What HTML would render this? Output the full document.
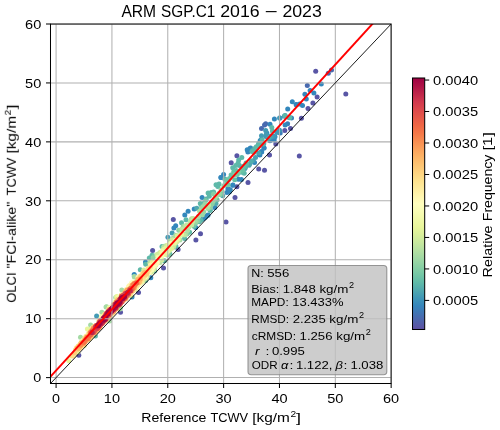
<!DOCTYPE html>
<html lang="en"><head><meta charset="utf-8"><title>ARM SGP.C1 2016 - 2023</title>
<style>
html,body{margin:0;padding:0;background:#ffffff;}
body{width:500px;height:430px;overflow:hidden;font-family:"Liberation Sans",sans-serif;}
svg{display:block;font-family:"Liberation Sans",sans-serif;}
svg text{fill:#000000;}
</style></head>
<body>
<svg width="500" height="430" viewBox="0 0 500 430">
<defs>
<clipPath id="axclip"><rect x="50.5" y="24.0" width="340.65" height="359.5"/></clipPath>
<linearGradient id="cb" x1="0" y1="0" x2="0" y2="1">
<stop offset="0.0000" stop-color="#9e0142"/><stop offset="0.0312" stop-color="#ad1246"/><stop offset="0.0625" stop-color="#be254a"/><stop offset="0.0938" stop-color="#d0384e"/><stop offset="0.1250" stop-color="#dc484c"/><stop offset="0.1562" stop-color="#e55749"/><stop offset="0.1875" stop-color="#ef6645"/><stop offset="0.2188" stop-color="#f57748"/><stop offset="0.2500" stop-color="#f88c51"/><stop offset="0.2812" stop-color="#fba05b"/><stop offset="0.3125" stop-color="#fdb365"/><stop offset="0.3438" stop-color="#fdc372"/><stop offset="0.3750" stop-color="#fed27f"/><stop offset="0.4062" stop-color="#fee18d"/><stop offset="0.4375" stop-color="#feeb9d"/><stop offset="0.4688" stop-color="#fff5ae"/><stop offset="0.5000" stop-color="#fffebe"/><stop offset="0.5312" stop-color="#f8fcb4"/><stop offset="0.5625" stop-color="#f0f9a7"/><stop offset="0.5938" stop-color="#e8f69b"/><stop offset="0.6250" stop-color="#d8ef9b"/><stop offset="0.6562" stop-color="#c6e89f"/><stop offset="0.6875" stop-color="#b3e0a2"/><stop offset="0.7188" stop-color="#9fd8a4"/><stop offset="0.7500" stop-color="#89d0a4"/><stop offset="0.7812" stop-color="#74c7a5"/><stop offset="0.8125" stop-color="#60bba8"/><stop offset="0.8438" stop-color="#50a9af"/><stop offset="0.8750" stop-color="#3f97b7"/><stop offset="0.9062" stop-color="#3585bb"/><stop offset="0.9375" stop-color="#4273b3"/><stop offset="0.9688" stop-color="#5061aa"/><stop offset="1.0000" stop-color="#5e4fa2"/>
</linearGradient>
<filter id="gs" filterUnits="userSpaceOnUse" x="0" y="0" width="500" height="430"><feOffset dx="0" dy="0"/></filter>
</defs>
<rect x="0" y="0" width="500" height="430" fill="#ffffff"/>
<g clip-path="url(#axclip)">
<g id="scatter">
<circle cx="78.8" cy="355.2" r="2.5" fill="#5956a5"/>
<circle cx="120.5" cy="312.2" r="2.5" fill="#5956a5"/>
<circle cx="138.5" cy="292.5" r="2.5" fill="#5956a5"/>
<circle cx="152.6" cy="250.4" r="2.5" fill="#5956a5"/>
<circle cx="163.5" cy="268.0" r="2.5" fill="#5956a5"/>
<circle cx="178.1" cy="249.5" r="2.5" fill="#5956a5"/>
<circle cx="173.3" cy="219.4" r="2.5" fill="#5956a5"/>
<circle cx="200.5" cy="233.8" r="2.5" fill="#5956a5"/>
<circle cx="195.9" cy="239.9" r="2.5" fill="#5956a5"/>
<circle cx="226.0" cy="221.9" r="2.5" fill="#5956a5"/>
<circle cx="235.0" cy="197.4" r="2.5" fill="#5956a5"/>
<circle cx="236.9" cy="186.8" r="2.5" fill="#5956a5"/>
<circle cx="248.0" cy="182.5" r="2.5" fill="#5956a5"/>
<circle cx="236.9" cy="155.7" r="2.5" fill="#5956a5"/>
<circle cx="231.2" cy="162.7" r="2.5" fill="#5956a5"/>
<circle cx="269.5" cy="155.0" r="2.5" fill="#5956a5"/>
<circle cx="258.7" cy="169.0" r="2.5" fill="#5956a5"/>
<circle cx="264.5" cy="170.2" r="2.5" fill="#5956a5"/>
<circle cx="275.8" cy="144.1" r="2.5" fill="#5956a5"/>
<circle cx="299.3" cy="156.0" r="2.5" fill="#5956a5"/>
<circle cx="284.8" cy="130.6" r="2.5" fill="#5956a5"/>
<circle cx="290.5" cy="128.6" r="2.5" fill="#5956a5"/>
<circle cx="301.4" cy="118.2" r="2.5" fill="#5956a5"/>
<circle cx="308.0" cy="108.6" r="2.5" fill="#5956a5"/>
<circle cx="315.7" cy="71.2" r="2.5" fill="#5956a5"/>
<circle cx="345.8" cy="93.9" r="2.5" fill="#5956a5"/>
<circle cx="317.1" cy="97.1" r="2.5" fill="#5956a5"/>
<circle cx="312.9" cy="103.1" r="2.5" fill="#5956a5"/>
<circle cx="265.7" cy="123.7" r="2.5" fill="#496aaf"/>
<circle cx="261.5" cy="128.6" r="2.5" fill="#496aaf"/>
<circle cx="264.5" cy="125.0" r="2.5" fill="#496aaf"/>
<circle cx="328.3" cy="73.3" r="2.5" fill="#496aaf"/>
<circle cx="331.5" cy="70.1" r="2.5" fill="#496aaf"/>
<circle cx="307.3" cy="85.6" r="2.5" fill="#496aaf"/>
<circle cx="280.2" cy="133.0" r="2.5" fill="#3b7cb7"/>
<circle cx="287.6" cy="123.8" r="2.5" fill="#3880b9"/>
<circle cx="291.5" cy="118.0" r="2.5" fill="#3585bb"/>
<circle cx="247.9" cy="152.0" r="2.5" fill="#3585bb"/>
<circle cx="132.0" cy="297.1" r="2.5" fill="#3387bc"/>
<circle cx="150.8" cy="277.7" r="2.5" fill="#3387bc"/>
<circle cx="145.5" cy="261.9" r="2.5" fill="#3387bc"/>
<circle cx="134.2" cy="274.6" r="2.5" fill="#3387bc"/>
<circle cx="184.8" cy="215.1" r="2.5" fill="#3387bc"/>
<circle cx="188.1" cy="211.2" r="2.5" fill="#3387bc"/>
<circle cx="175.7" cy="225.7" r="2.5" fill="#3387bc"/>
<circle cx="173.9" cy="228.1" r="2.5" fill="#3387bc"/>
<circle cx="195.7" cy="227.5" r="2.5" fill="#3387bc"/>
<circle cx="202.9" cy="218.7" r="2.5" fill="#3387bc"/>
<circle cx="205.9" cy="216.7" r="2.5" fill="#3387bc"/>
<circle cx="208.1" cy="215.1" r="2.5" fill="#3387bc"/>
<circle cx="202.1" cy="197.4" r="2.5" fill="#3387bc"/>
<circle cx="194.2" cy="208.9" r="2.5" fill="#3387bc"/>
<circle cx="214.8" cy="207.4" r="2.5" fill="#3387bc"/>
<circle cx="210.0" cy="210.0" r="2.5" fill="#3387bc"/>
<circle cx="207.5" cy="215.5" r="2.5" fill="#3387bc"/>
<circle cx="204.5" cy="217.9" r="2.5" fill="#3387bc"/>
<circle cx="202.7" cy="219.1" r="2.5" fill="#3387bc"/>
<circle cx="228.7" cy="189.5" r="2.5" fill="#3387bc"/>
<circle cx="226.9" cy="192.5" r="2.5" fill="#3387bc"/>
<circle cx="229.3" cy="191.9" r="2.5" fill="#3387bc"/>
<circle cx="232.9" cy="184.9" r="2.5" fill="#3387bc"/>
<circle cx="220.8" cy="177.4" r="2.5" fill="#3387bc"/>
<circle cx="238.4" cy="179.2" r="2.5" fill="#3387bc"/>
<circle cx="241.4" cy="179.6" r="2.5" fill="#3387bc"/>
<circle cx="254.5" cy="162.4" r="2.5" fill="#3387bc"/>
<circle cx="247.2" cy="149.7" r="2.5" fill="#3387bc"/>
<circle cx="250.0" cy="148.5" r="2.5" fill="#3387bc"/>
<circle cx="223.6" cy="174.5" r="2.5" fill="#3387bc"/>
<circle cx="221.2" cy="177.5" r="2.5" fill="#3387bc"/>
<circle cx="227.9" cy="189.0" r="2.5" fill="#3387bc"/>
<circle cx="232.7" cy="185.3" r="2.5" fill="#3387bc"/>
<circle cx="259.9" cy="155.1" r="2.5" fill="#3387bc"/>
<circle cx="261.7" cy="152.1" r="2.5" fill="#3387bc"/>
<circle cx="264.1" cy="147.9" r="2.5" fill="#3387bc"/>
<circle cx="274.4" cy="118.9" r="2.5" fill="#3387bc"/>
<circle cx="287.7" cy="109.1" r="2.5" fill="#3387bc"/>
<circle cx="270.0" cy="124.3" r="2.5" fill="#3387bc"/>
<circle cx="285.1" cy="125.0" r="2.5" fill="#3387bc"/>
<circle cx="273.0" cy="137.6" r="2.5" fill="#3387bc"/>
<circle cx="274.2" cy="140.1" r="2.5" fill="#3387bc"/>
<circle cx="270.0" cy="140.7" r="2.5" fill="#3387bc"/>
<circle cx="263.9" cy="147.9" r="2.5" fill="#3387bc"/>
<circle cx="261.5" cy="151.6" r="2.5" fill="#3387bc"/>
<circle cx="259.1" cy="154.6" r="2.5" fill="#3387bc"/>
<circle cx="250.6" cy="147.9" r="2.5" fill="#3387bc"/>
<circle cx="302.5" cy="105.5" r="2.5" fill="#3387bc"/>
<circle cx="296.4" cy="104.8" r="2.5" fill="#3387bc"/>
<circle cx="321.3" cy="84.1" r="2.5" fill="#3387bc"/>
<circle cx="310.1" cy="90.5" r="2.5" fill="#3387bc"/>
<circle cx="313.9" cy="92.9" r="2.5" fill="#3387bc"/>
<circle cx="304.9" cy="94.3" r="2.5" fill="#3387bc"/>
<circle cx="306.3" cy="98.9" r="2.5" fill="#3387bc"/>
<circle cx="292.3" cy="101.7" r="2.5" fill="#3387bc"/>
<circle cx="296.1" cy="104.5" r="2.5" fill="#3387bc"/>
<circle cx="299.6" cy="104.1" r="2.5" fill="#3387bc"/>
<circle cx="280.0" cy="118.0" r="2.5" fill="#3387bc"/>
<circle cx="266.8" cy="132.9" r="2.5" fill="#358bbc"/>
<circle cx="230.3" cy="189.7" r="2.5" fill="#358bbc"/>
<circle cx="260.2" cy="140.6" r="2.5" fill="#378ebb"/>
<circle cx="275.0" cy="136.8" r="2.5" fill="#378ebb"/>
<circle cx="284.4" cy="116.2" r="2.5" fill="#3990ba"/>
<circle cx="261.4" cy="139.4" r="2.5" fill="#3990ba"/>
<circle cx="273.6" cy="136.3" r="2.5" fill="#3f97b7"/>
<circle cx="276.8" cy="132.6" r="2.5" fill="#4199b6"/>
<circle cx="279.5" cy="130.2" r="2.5" fill="#4199b6"/>
<circle cx="265.8" cy="136.6" r="2.5" fill="#4199b6"/>
<circle cx="96.6" cy="316.1" r="2.5" fill="#439bb5"/>
<circle cx="172.1" cy="233.0" r="2.5" fill="#439bb5"/>
<circle cx="167.9" cy="237.2" r="2.5" fill="#439bb5"/>
<circle cx="279.6" cy="118.1" r="2.5" fill="#439bb5"/>
<circle cx="285.1" cy="115.6" r="2.5" fill="#439bb5"/>
<circle cx="289.3" cy="117.7" r="2.5" fill="#439bb5"/>
<circle cx="265.7" cy="130.4" r="2.5" fill="#439bb5"/>
<circle cx="261.5" cy="135.8" r="2.5" fill="#439bb5"/>
<circle cx="266.3" cy="134.6" r="2.5" fill="#439bb5"/>
<circle cx="253.1" cy="160.7" r="2.5" fill="#459eb4"/>
<circle cx="271.3" cy="137.0" r="2.5" fill="#47a0b3"/>
<circle cx="258.7" cy="143.4" r="2.5" fill="#49a2b2"/>
<circle cx="255.5" cy="157.5" r="2.5" fill="#49a2b2"/>
<circle cx="245.0" cy="168.5" r="2.5" fill="#49a2b2"/>
<circle cx="252.6" cy="150.1" r="2.5" fill="#49a2b2"/>
<circle cx="258.8" cy="153.0" r="2.5" fill="#4ba4b1"/>
<circle cx="270.7" cy="136.1" r="2.5" fill="#4ba4b1"/>
<circle cx="249.1" cy="165.3" r="2.5" fill="#4ea7b0"/>
<circle cx="196.8" cy="208.3" r="2.5" fill="#50a9af"/>
<circle cx="263.1" cy="144.2" r="2.5" fill="#50a9af"/>
<circle cx="268.4" cy="138.5" r="2.5" fill="#50a9af"/>
<circle cx="249.8" cy="163.8" r="2.5" fill="#50a9af"/>
<circle cx="216.0" cy="203.5" r="2.5" fill="#52abae"/>
<circle cx="263.8" cy="143.8" r="2.5" fill="#54aead"/>
<circle cx="222.7" cy="195.8" r="2.5" fill="#54aead"/>
<circle cx="251.2" cy="161.0" r="2.5" fill="#54aead"/>
<circle cx="154.6" cy="271.0" r="2.5" fill="#56b0ad"/>
<circle cx="224.8" cy="179.0" r="2.5" fill="#58b2ac"/>
<circle cx="245.7" cy="166.7" r="2.5" fill="#58b2ac"/>
<circle cx="239.5" cy="165.5" r="2.5" fill="#58b2ac"/>
<circle cx="199.3" cy="221.7" r="2.5" fill="#5ab4ab"/>
<circle cx="206.2" cy="199.1" r="2.5" fill="#5ab4ab"/>
<circle cx="184.6" cy="238.4" r="2.5" fill="#5cb7aa"/>
<circle cx="201.0" cy="220.2" r="2.5" fill="#5cb7aa"/>
<circle cx="241.0" cy="172.2" r="2.5" fill="#5cb7aa"/>
<circle cx="95.4" cy="336.0" r="2.5" fill="#5eb9a9"/>
<circle cx="145.7" cy="280.5" r="2.5" fill="#5eb9a9"/>
<circle cx="145.7" cy="264.3" r="2.5" fill="#5eb9a9"/>
<circle cx="140.3" cy="269.8" r="2.5" fill="#5eb9a9"/>
<circle cx="152.0" cy="255.3" r="2.5" fill="#5eb9a9"/>
<circle cx="149.3" cy="258.1" r="2.5" fill="#5eb9a9"/>
<circle cx="164.5" cy="260.7" r="2.5" fill="#5eb9a9"/>
<circle cx="169.9" cy="254.1" r="2.5" fill="#5eb9a9"/>
<circle cx="162.0" cy="246.5" r="2.5" fill="#5eb9a9"/>
<circle cx="175.9" cy="246.2" r="2.5" fill="#5eb9a9"/>
<circle cx="210.2" cy="210.6" r="2.5" fill="#5eb9a9"/>
<circle cx="181.5" cy="222.7" r="2.5" fill="#5eb9a9"/>
<circle cx="186.0" cy="219.7" r="2.5" fill="#5eb9a9"/>
<circle cx="216.0" cy="184.7" r="2.5" fill="#5eb9a9"/>
<circle cx="219.0" cy="184.0" r="2.5" fill="#5eb9a9"/>
<circle cx="217.8" cy="186.5" r="2.5" fill="#5eb9a9"/>
<circle cx="208.1" cy="193.1" r="2.5" fill="#5eb9a9"/>
<circle cx="211.2" cy="192.5" r="2.5" fill="#5eb9a9"/>
<circle cx="213.6" cy="191.9" r="2.5" fill="#5eb9a9"/>
<circle cx="209.3" cy="196.2" r="2.5" fill="#5eb9a9"/>
<circle cx="200.3" cy="203.4" r="2.5" fill="#5eb9a9"/>
<circle cx="203.3" cy="203.4" r="2.5" fill="#5eb9a9"/>
<circle cx="201.5" cy="205.2" r="2.5" fill="#5eb9a9"/>
<circle cx="241.8" cy="157.5" r="2.5" fill="#5eb9a9"/>
<circle cx="238.7" cy="160.0" r="2.5" fill="#5eb9a9"/>
<circle cx="238.1" cy="163.0" r="2.5" fill="#5eb9a9"/>
<circle cx="235.7" cy="165.4" r="2.5" fill="#5eb9a9"/>
<circle cx="232.7" cy="167.8" r="2.5" fill="#5eb9a9"/>
<circle cx="244.2" cy="166.0" r="2.5" fill="#5eb9a9"/>
<circle cx="246.0" cy="163.0" r="2.5" fill="#5eb9a9"/>
<circle cx="242.4" cy="169.6" r="2.5" fill="#5eb9a9"/>
<circle cx="244.2" cy="173.3" r="2.5" fill="#5eb9a9"/>
<circle cx="259.9" cy="143.6" r="2.5" fill="#5eb9a9"/>
<circle cx="256.3" cy="146.7" r="2.5" fill="#5eb9a9"/>
<circle cx="252.0" cy="151.5" r="2.5" fill="#5eb9a9"/>
<circle cx="271.8" cy="127.4" r="2.5" fill="#5eb9a9"/>
<circle cx="272.4" cy="131.0" r="2.5" fill="#5eb9a9"/>
<circle cx="262.1" cy="140.1" r="2.5" fill="#5eb9a9"/>
<circle cx="258.5" cy="144.9" r="2.5" fill="#5eb9a9"/>
<circle cx="254.8" cy="148.5" r="2.5" fill="#5eb9a9"/>
<circle cx="284.9" cy="115.7" r="2.5" fill="#5eb9a9"/>
<circle cx="289.8" cy="117.4" r="2.5" fill="#5eb9a9"/>
<circle cx="254.3" cy="152.3" r="2.5" fill="#60bba8"/>
<circle cx="256.7" cy="147.4" r="2.5" fill="#60bba8"/>
<circle cx="246.6" cy="163.6" r="2.5" fill="#62bda7"/>
<circle cx="231.1" cy="175.0" r="2.5" fill="#62bda7"/>
<circle cx="189.6" cy="232.3" r="2.5" fill="#62bda7"/>
<circle cx="236.1" cy="170.5" r="2.5" fill="#62bda7"/>
<circle cx="244.0" cy="165.9" r="2.5" fill="#64c0a6"/>
<circle cx="241.8" cy="171.4" r="2.5" fill="#64c0a6"/>
<circle cx="233.7" cy="171.8" r="2.5" fill="#66c2a5"/>
<circle cx="234.7" cy="179.8" r="2.5" fill="#66c2a5"/>
<circle cx="217.1" cy="199.8" r="2.5" fill="#69c3a5"/>
<circle cx="232.4" cy="175.0" r="2.5" fill="#6bc4a5"/>
<circle cx="242.8" cy="170.0" r="2.5" fill="#6bc4a5"/>
<circle cx="228.4" cy="180.3" r="2.5" fill="#6ec5a5"/>
<circle cx="194.0" cy="226.3" r="2.5" fill="#6ec5a5"/>
<circle cx="226.4" cy="180.3" r="2.5" fill="#6ec5a5"/>
<circle cx="229.4" cy="178.5" r="2.5" fill="#6ec5a5"/>
<circle cx="237.3" cy="174.4" r="2.5" fill="#71c6a5"/>
<circle cx="154.1" cy="256.1" r="2.5" fill="#76c8a5"/>
<circle cx="209.6" cy="207.6" r="2.5" fill="#79c9a5"/>
<circle cx="168.8" cy="254.4" r="2.5" fill="#79c9a5"/>
<circle cx="205.7" cy="200.5" r="2.5" fill="#79c9a5"/>
<circle cx="228.1" cy="184.7" r="2.5" fill="#79c9a5"/>
<circle cx="225.9" cy="184.3" r="2.5" fill="#79c9a5"/>
<circle cx="222.1" cy="191.4" r="2.5" fill="#7ccaa5"/>
<circle cx="238.8" cy="171.7" r="2.5" fill="#7ecca5"/>
<circle cx="187.1" cy="234.0" r="2.5" fill="#7ecca5"/>
<circle cx="235.2" cy="174.6" r="2.5" fill="#84cea5"/>
<circle cx="213.5" cy="193.9" r="2.5" fill="#84cea5"/>
<circle cx="212.3" cy="203.7" r="2.5" fill="#86cfa5"/>
<circle cx="198.0" cy="220.9" r="2.5" fill="#86cfa5"/>
<circle cx="220.3" cy="194.5" r="2.5" fill="#86cfa5"/>
<circle cx="163.5" cy="247.2" r="2.5" fill="#86cfa5"/>
<circle cx="218.5" cy="194.3" r="2.5" fill="#89d0a4"/>
<circle cx="211.1" cy="205.3" r="2.5" fill="#89d0a4"/>
<circle cx="210.2" cy="207.5" r="2.5" fill="#8cd1a4"/>
<circle cx="178.8" cy="230.2" r="2.5" fill="#8cd1a4"/>
<circle cx="223.8" cy="185.7" r="2.5" fill="#8cd1a4"/>
<circle cx="195.7" cy="223.0" r="2.5" fill="#8fd2a4"/>
<circle cx="153.0" cy="257.7" r="2.5" fill="#91d3a4"/>
<circle cx="213.3" cy="201.1" r="2.5" fill="#97d5a4"/>
<circle cx="183.3" cy="226.3" r="2.5" fill="#97d5a4"/>
<circle cx="203.8" cy="212.1" r="2.5" fill="#99d6a4"/>
<circle cx="204.9" cy="204.3" r="2.5" fill="#99d6a4"/>
<circle cx="167.3" cy="254.9" r="2.5" fill="#99d6a4"/>
<circle cx="196.1" cy="221.4" r="2.5" fill="#9cd7a4"/>
<circle cx="219.0" cy="193.6" r="2.5" fill="#9cd7a4"/>
<circle cx="202.3" cy="215.1" r="2.5" fill="#9cd7a4"/>
<circle cx="215.0" cy="197.9" r="2.5" fill="#9cd7a4"/>
<circle cx="221.0" cy="189.7" r="2.5" fill="#9cd7a4"/>
<circle cx="202.8" cy="206.8" r="2.5" fill="#9fd8a4"/>
<circle cx="164.3" cy="246.2" r="2.5" fill="#9fd8a4"/>
<circle cx="180.7" cy="230.1" r="2.5" fill="#9fd8a4"/>
<circle cx="201.3" cy="208.8" r="2.5" fill="#9fd8a4"/>
<circle cx="207.9" cy="208.5" r="2.5" fill="#a2d9a4"/>
<circle cx="173.5" cy="247.2" r="2.5" fill="#a2d9a4"/>
<circle cx="90.6" cy="325.0" r="2.5" fill="#a4daa4"/>
<circle cx="80.5" cy="337.2" r="2.5" fill="#a4daa4"/>
<circle cx="106.0" cy="307.1" r="2.5" fill="#a4daa4"/>
<circle cx="101.9" cy="312.2" r="2.5" fill="#a4daa4"/>
<circle cx="120.0" cy="309.0" r="2.5" fill="#a4daa4"/>
<circle cx="109.6" cy="321.0" r="2.5" fill="#a4daa4"/>
<circle cx="121.8" cy="290.1" r="2.5" fill="#a4daa4"/>
<circle cx="115.7" cy="297.4" r="2.5" fill="#a4daa4"/>
<circle cx="106.7" cy="306.7" r="2.5" fill="#a4daa4"/>
<circle cx="134.2" cy="276.5" r="2.5" fill="#a4daa4"/>
<circle cx="120.5" cy="307.4" r="2.5" fill="#a4daa4"/>
<circle cx="134.6" cy="277.0" r="2.5" fill="#a4daa4"/>
<circle cx="154.2" cy="268.0" r="2.5" fill="#a4daa4"/>
<circle cx="195.0" cy="220.0" r="2.5" fill="#a7dba4"/>
<circle cx="153.7" cy="270.1" r="2.5" fill="#a7dba4"/>
<circle cx="179.9" cy="239.9" r="2.5" fill="#a7dba4"/>
<circle cx="173.0" cy="238.2" r="2.5" fill="#a7dba4"/>
<circle cx="216.5" cy="196.0" r="2.5" fill="#aadca4"/>
<circle cx="175.7" cy="235.2" r="2.5" fill="#aadca4"/>
<circle cx="185.9" cy="234.1" r="2.5" fill="#aadca4"/>
<circle cx="169.7" cy="241.0" r="2.5" fill="#aadca4"/>
<circle cx="198.4" cy="216.5" r="2.5" fill="#acdda4"/>
<circle cx="165.9" cy="246.2" r="2.5" fill="#acdda4"/>
<circle cx="187.7" cy="230.6" r="2.5" fill="#aedea3"/>
<circle cx="199.6" cy="211.2" r="2.5" fill="#aedea3"/>
<circle cx="182.5" cy="228.7" r="2.5" fill="#aedea3"/>
<circle cx="145.7" cy="278.8" r="2.5" fill="#b1dfa3"/>
<circle cx="191.5" cy="218.8" r="2.5" fill="#b1dfa3"/>
<circle cx="207.3" cy="207.0" r="2.5" fill="#b5e1a2"/>
<circle cx="163.8" cy="247.0" r="2.5" fill="#b5e1a2"/>
<circle cx="185.2" cy="226.2" r="2.5" fill="#b8e2a1"/>
<circle cx="160.0" cy="262.4" r="2.5" fill="#b8e2a1"/>
<circle cx="150.2" cy="262.5" r="2.5" fill="#b8e2a1"/>
<circle cx="208.6" cy="205.0" r="2.5" fill="#bae3a1"/>
<circle cx="188.2" cy="225.1" r="2.5" fill="#bae3a1"/>
<circle cx="149.8" cy="262.7" r="2.5" fill="#bae3a1"/>
<circle cx="188.9" cy="227.1" r="2.5" fill="#bce4a0"/>
<circle cx="172.1" cy="247.6" r="2.5" fill="#bce4a0"/>
<circle cx="190.4" cy="221.4" r="2.5" fill="#bfe5a0"/>
<circle cx="177.9" cy="240.0" r="2.5" fill="#bfe5a0"/>
<circle cx="193.2" cy="218.6" r="2.5" fill="#c1e6a0"/>
<circle cx="182.3" cy="229.5" r="2.5" fill="#c1e6a0"/>
<circle cx="130.9" cy="295.5" r="2.5" fill="#c3e79f"/>
<circle cx="160.1" cy="252.6" r="2.5" fill="#c3e79f"/>
<circle cx="184.2" cy="234.9" r="2.5" fill="#c3e79f"/>
<circle cx="191.7" cy="224.9" r="2.5" fill="#c6e89f"/>
<circle cx="169.5" cy="250.5" r="2.5" fill="#c6e89f"/>
<circle cx="158.2" cy="254.5" r="2.5" fill="#c6e89f"/>
<circle cx="159.5" cy="253.2" r="2.5" fill="#c6e89f"/>
<circle cx="186.5" cy="225.0" r="2.5" fill="#c6e89f"/>
<circle cx="173.9" cy="245.8" r="2.5" fill="#c8e99e"/>
<circle cx="166.5" cy="245.5" r="2.5" fill="#caea9e"/>
<circle cx="192.5" cy="221.5" r="2.5" fill="#cdeb9d"/>
<circle cx="174.8" cy="243.4" r="2.5" fill="#cdeb9d"/>
<circle cx="151.6" cy="271.8" r="2.5" fill="#cdeb9d"/>
<circle cx="157.0" cy="254.6" r="2.5" fill="#cdeb9d"/>
<circle cx="91.6" cy="328.3" r="2.5" fill="#cdeb9d"/>
<circle cx="181.2" cy="233.7" r="2.5" fill="#cfec9d"/>
<circle cx="157.3" cy="255.1" r="2.5" fill="#cfec9d"/>
<circle cx="161.8" cy="259.9" r="2.5" fill="#cfec9d"/>
<circle cx="151.0" cy="272.2" r="2.5" fill="#cfec9d"/>
<circle cx="160.6" cy="252.9" r="2.5" fill="#d1ed9c"/>
<circle cx="84.3" cy="345.4" r="2.5" fill="#d3ed9c"/>
<circle cx="172.4" cy="239.8" r="2.5" fill="#d3ed9c"/>
<circle cx="158.5" cy="254.9" r="2.5" fill="#d3ed9c"/>
<circle cx="176.7" cy="242.0" r="2.5" fill="#d6ee9b"/>
<circle cx="143.7" cy="270.1" r="2.5" fill="#d6ee9b"/>
<circle cx="153.9" cy="268.9" r="2.5" fill="#d6ee9b"/>
<circle cx="170.2" cy="243.4" r="2.5" fill="#d6ee9b"/>
<circle cx="143.0" cy="281.2" r="2.5" fill="#d8ef9b"/>
<circle cx="147.2" cy="276.4" r="2.5" fill="#ddf19a"/>
<circle cx="168.2" cy="250.7" r="2.5" fill="#ddf19a"/>
<circle cx="135.7" cy="289.3" r="2.5" fill="#ddf19a"/>
<circle cx="179.6" cy="235.8" r="2.5" fill="#dff299"/>
<circle cx="177.3" cy="235.7" r="2.5" fill="#dff299"/>
<circle cx="116.8" cy="298.5" r="2.5" fill="#dff299"/>
<circle cx="165.9" cy="248.0" r="2.5" fill="#e1f399"/>
<circle cx="165.0" cy="249.3" r="2.5" fill="#e1f399"/>
<circle cx="145.3" cy="277.9" r="2.5" fill="#e1f399"/>
<circle cx="171.6" cy="248.4" r="2.5" fill="#e1f399"/>
<circle cx="163.0" cy="250.0" r="2.5" fill="#e4f498"/>
<circle cx="168.4" cy="244.8" r="2.5" fill="#e4f498"/>
<circle cx="166.9" cy="252.6" r="2.5" fill="#e4f498"/>
<circle cx="164.4" cy="249.2" r="2.5" fill="#e4f498"/>
<circle cx="145.9" cy="276.9" r="2.5" fill="#e4f498"/>
<circle cx="152.3" cy="261.9" r="2.5" fill="#e6f598"/>
<circle cx="77.8" cy="352.1" r="2.5" fill="#e6f598"/>
<circle cx="181.6" cy="234.1" r="2.5" fill="#e6f598"/>
<circle cx="155.8" cy="265.3" r="2.5" fill="#e6f598"/>
<circle cx="165.3" cy="254.4" r="2.5" fill="#e8f69b"/>
<circle cx="161.1" cy="252.4" r="2.5" fill="#e8f69b"/>
<circle cx="176.4" cy="240.0" r="2.5" fill="#e8f69b"/>
<circle cx="68.8" cy="360.8" r="2.5" fill="#e8f69b"/>
<circle cx="87.4" cy="329.0" r="2.5" fill="#e8f69b"/>
<circle cx="116.7" cy="296.4" r="2.5" fill="#e8f69b"/>
<circle cx="171.2" cy="244.1" r="2.5" fill="#e9f69d"/>
<circle cx="141.2" cy="282.4" r="2.5" fill="#eaf79e"/>
<circle cx="174.4" cy="243.1" r="2.5" fill="#eaf79e"/>
<circle cx="101.6" cy="316.4" r="2.5" fill="#ebf7a0"/>
<circle cx="178.3" cy="238.9" r="2.5" fill="#ecf7a1"/>
<circle cx="136.3" cy="288.0" r="2.5" fill="#eef8a4"/>
<circle cx="117.9" cy="297.5" r="2.5" fill="#eef8a4"/>
<circle cx="167.5" cy="251.5" r="2.5" fill="#eef8a4"/>
<circle cx="161.0" cy="256.4" r="2.5" fill="#f0f9a7"/>
<circle cx="151.8" cy="270.0" r="2.5" fill="#f0f9a7"/>
<circle cx="139.9" cy="284.0" r="2.5" fill="#f0f9a7"/>
<circle cx="175.3" cy="240.6" r="2.5" fill="#f1f9a9"/>
<circle cx="109.4" cy="307.5" r="2.5" fill="#f1f9a9"/>
<circle cx="162.5" cy="251.6" r="2.5" fill="#f1f9a9"/>
<circle cx="158.0" cy="257.3" r="2.5" fill="#f1f9a9"/>
<circle cx="149.4" cy="272.5" r="2.5" fill="#f3faac"/>
<circle cx="152.1" cy="269.5" r="2.5" fill="#f3faac"/>
<circle cx="162.7" cy="253.1" r="2.5" fill="#f3faac"/>
<circle cx="159.3" cy="258.0" r="2.5" fill="#f5fbaf"/>
<circle cx="170.8" cy="243.5" r="2.5" fill="#f5fbaf"/>
<circle cx="155.1" cy="265.5" r="2.5" fill="#f7fcb2"/>
<circle cx="128.5" cy="286.5" r="2.5" fill="#f8fcb4"/>
<circle cx="151.3" cy="270.0" r="2.5" fill="#f8fcb4"/>
<circle cx="161.7" cy="256.1" r="2.5" fill="#f8fcb4"/>
<circle cx="157.6" cy="262.4" r="2.5" fill="#f9fcb5"/>
<circle cx="118.5" cy="297.6" r="2.5" fill="#f9fcb5"/>
<circle cx="158.9" cy="258.2" r="2.5" fill="#fafdb7"/>
<circle cx="131.5" cy="283.1" r="2.5" fill="#fafdb7"/>
<circle cx="155.2" cy="262.9" r="2.5" fill="#fbfdb8"/>
<circle cx="153.1" cy="266.7" r="2.5" fill="#fbfdb8"/>
<circle cx="89.6" cy="338.8" r="2.5" fill="#fdfebb"/>
<circle cx="73.6" cy="355.5" r="2.5" fill="#fdfebb"/>
<circle cx="156.5" cy="263.2" r="2.5" fill="#fefebd"/>
<circle cx="136.8" cy="287.0" r="2.5" fill="#fefebd"/>
<circle cx="138.7" cy="284.3" r="2.5" fill="#fefebd"/>
<circle cx="85.8" cy="336.2" r="2.5" fill="#fefebd"/>
<circle cx="156.4" cy="261.2" r="2.5" fill="#fffebe"/>
<circle cx="139.0" cy="284.6" r="2.5" fill="#fffebe"/>
<circle cx="149.0" cy="272.7" r="2.5" fill="#fffdbc"/>
<circle cx="145.4" cy="276.8" r="2.5" fill="#fffdbc"/>
<circle cx="132.8" cy="282.1" r="2.5" fill="#fffdbc"/>
<circle cx="94.9" cy="332.9" r="2.5" fill="#fffcba"/>
<circle cx="152.5" cy="267.5" r="2.5" fill="#fffbb8"/>
<circle cx="129.2" cy="286.3" r="2.5" fill="#fffbb8"/>
<circle cx="156.0" cy="262.8" r="2.5" fill="#fffab6"/>
<circle cx="148.3" cy="271.2" r="2.5" fill="#fff8b4"/>
<circle cx="138.0" cy="277.3" r="2.5" fill="#fff8b4"/>
<circle cx="133.4" cy="290.6" r="2.5" fill="#fff7b2"/>
<circle cx="101.2" cy="317.7" r="2.5" fill="#fff7b2"/>
<circle cx="141.5" cy="280.9" r="2.5" fill="#fff5ae"/>
<circle cx="93.7" cy="326.9" r="2.5" fill="#fff3ac"/>
<circle cx="81.6" cy="341.6" r="2.5" fill="#fff3ac"/>
<circle cx="136.0" cy="286.8" r="2.5" fill="#fff3ac"/>
<circle cx="129.5" cy="285.6" r="2.5" fill="#fff2aa"/>
<circle cx="150.4" cy="265.0" r="2.5" fill="#fff2aa"/>
<circle cx="154.6" cy="262.7" r="2.5" fill="#fff2aa"/>
<circle cx="76.4" cy="347.7" r="2.5" fill="#fff2aa"/>
<circle cx="121.0" cy="295.6" r="2.5" fill="#fff1a8"/>
<circle cx="139.7" cy="276.3" r="2.5" fill="#fff1a8"/>
<circle cx="148.2" cy="269.7" r="2.5" fill="#fff1a8"/>
<circle cx="115.1" cy="301.8" r="2.5" fill="#fff1a8"/>
<circle cx="89.7" cy="338.7" r="2.5" fill="#fff0a6"/>
<circle cx="89.2" cy="332.6" r="2.5" fill="#fff0a6"/>
<circle cx="126.3" cy="289.5" r="2.5" fill="#fff0a6"/>
<circle cx="92.8" cy="327.9" r="2.5" fill="#feeda1"/>
<circle cx="83.0" cy="340.2" r="2.5" fill="#feeda1"/>
<circle cx="81.9" cy="341.5" r="2.5" fill="#feec9f"/>
<circle cx="92.4" cy="328.3" r="2.5" fill="#feec9f"/>
<circle cx="144.0" cy="273.6" r="2.5" fill="#feec9f"/>
<circle cx="74.0" cy="354.5" r="2.5" fill="#feec9f"/>
<circle cx="80.8" cy="347.8" r="2.5" fill="#feeb9d"/>
<circle cx="142.3" cy="273.6" r="2.5" fill="#feeb9d"/>
<circle cx="73.0" cy="355.9" r="2.5" fill="#feeb9d"/>
<circle cx="141.9" cy="279.5" r="2.5" fill="#feea9b"/>
<circle cx="112.1" cy="314.2" r="2.5" fill="#feea9b"/>
<circle cx="104.6" cy="314.2" r="2.5" fill="#feea9b"/>
<circle cx="142.5" cy="277.9" r="2.5" fill="#feea9b"/>
<circle cx="150.7" cy="266.9" r="2.5" fill="#fee999"/>
<circle cx="140.5" cy="276.5" r="2.5" fill="#fee797"/>
<circle cx="99.9" cy="327.3" r="2.5" fill="#fee797"/>
<circle cx="130.5" cy="293.7" r="2.5" fill="#fee695"/>
<circle cx="132.0" cy="291.6" r="2.5" fill="#fee695"/>
<circle cx="90.5" cy="337.3" r="2.5" fill="#fee695"/>
<circle cx="93.8" cy="327.4" r="2.5" fill="#fee695"/>
<circle cx="86.5" cy="335.9" r="2.5" fill="#fee695"/>
<circle cx="96.3" cy="331.0" r="2.5" fill="#fee593"/>
<circle cx="133.3" cy="290.6" r="2.5" fill="#fee593"/>
<circle cx="141.7" cy="279.8" r="2.5" fill="#fee593"/>
<circle cx="149.1" cy="269.7" r="2.5" fill="#fee491"/>
<circle cx="140.9" cy="280.5" r="2.5" fill="#fee491"/>
<circle cx="143.1" cy="278.0" r="2.5" fill="#fee491"/>
<circle cx="89.1" cy="333.1" r="2.5" fill="#fee491"/>
<circle cx="108.6" cy="309.3" r="2.5" fill="#fee491"/>
<circle cx="147.9" cy="268.5" r="2.5" fill="#fee491"/>
<circle cx="130.7" cy="293.5" r="2.5" fill="#fee491"/>
<circle cx="87.8" cy="340.1" r="2.5" fill="#fee28f"/>
<circle cx="117.5" cy="299.1" r="2.5" fill="#fee28f"/>
<circle cx="137.2" cy="285.5" r="2.5" fill="#fee28f"/>
<circle cx="84.7" cy="338.0" r="2.5" fill="#fee28f"/>
<circle cx="142.6" cy="274.1" r="2.5" fill="#fee28f"/>
<circle cx="83.4" cy="344.7" r="2.5" fill="#fee28f"/>
<circle cx="88.2" cy="339.7" r="2.5" fill="#fee28f"/>
<circle cx="98.9" cy="321.1" r="2.5" fill="#fee18d"/>
<circle cx="88.9" cy="333.2" r="2.5" fill="#fee18d"/>
<circle cx="148.6" cy="268.0" r="2.5" fill="#fee08b"/>
<circle cx="75.5" cy="350.0" r="2.5" fill="#fee08b"/>
<circle cx="140.2" cy="281.4" r="2.5" fill="#fee08b"/>
<circle cx="147.6" cy="270.5" r="2.5" fill="#fee08b"/>
<circle cx="80.3" cy="343.8" r="2.5" fill="#fee08b"/>
<circle cx="144.2" cy="276.2" r="2.5" fill="#fede89"/>
<circle cx="71.6" cy="356.0" r="2.5" fill="#fede89"/>
<circle cx="113.4" cy="304.5" r="2.5" fill="#fede89"/>
<circle cx="78.2" cy="345.9" r="2.5" fill="#fede89"/>
<circle cx="75.6" cy="350.0" r="2.5" fill="#fede89"/>
<circle cx="93.4" cy="327.6" r="2.5" fill="#fedc88"/>
<circle cx="121.6" cy="294.8" r="2.5" fill="#fedc88"/>
<circle cx="146.7" cy="272.9" r="2.5" fill="#fedc88"/>
<circle cx="144.5" cy="275.9" r="2.5" fill="#feda86"/>
<circle cx="129.3" cy="294.6" r="2.5" fill="#feda86"/>
<circle cx="146.6" cy="271.8" r="2.5" fill="#feda86"/>
<circle cx="87.2" cy="337.5" r="2.5" fill="#fed884"/>
<circle cx="92.0" cy="335.5" r="2.5" fill="#fed683"/>
<circle cx="90.8" cy="330.9" r="2.5" fill="#fed683"/>
<circle cx="138.4" cy="282.9" r="2.5" fill="#fed683"/>
<circle cx="109.6" cy="316.6" r="2.5" fill="#fed481"/>
<circle cx="76.8" cy="348.3" r="2.5" fill="#fed27f"/>
<circle cx="94.5" cy="326.5" r="2.5" fill="#fed27f"/>
<circle cx="147.2" cy="272.7" r="2.5" fill="#fed07e"/>
<circle cx="99.3" cy="327.6" r="2.5" fill="#fed07e"/>
<circle cx="145.0" cy="274.4" r="2.5" fill="#fece7c"/>
<circle cx="132.4" cy="291.0" r="2.5" fill="#fece7c"/>
<circle cx="79.0" cy="348.6" r="2.5" fill="#fece7c"/>
<circle cx="74.6" cy="353.0" r="2.5" fill="#fece7c"/>
<circle cx="146.4" cy="274.3" r="2.5" fill="#fecc7b"/>
<circle cx="82.6" cy="344.9" r="2.5" fill="#fecc7b"/>
<circle cx="140.7" cy="276.6" r="2.5" fill="#fecc7b"/>
<circle cx="77.1" cy="349.4" r="2.5" fill="#fecc7b"/>
<circle cx="106.2" cy="320.1" r="2.5" fill="#fecc7b"/>
<circle cx="143.5" cy="273.5" r="2.5" fill="#feca79"/>
<circle cx="109.2" cy="309.2" r="2.5" fill="#feca79"/>
<circle cx="113.1" cy="304.9" r="2.5" fill="#feca79"/>
<circle cx="139.3" cy="282.0" r="2.5" fill="#fec877"/>
<circle cx="91.1" cy="336.5" r="2.5" fill="#fec877"/>
<circle cx="125.9" cy="298.7" r="2.5" fill="#fec877"/>
<circle cx="81.5" cy="344.6" r="2.5" fill="#fdc776"/>
<circle cx="136.7" cy="281.7" r="2.5" fill="#fdc574"/>
<circle cx="79.8" cy="347.6" r="2.5" fill="#fdc574"/>
<circle cx="95.1" cy="326.0" r="2.5" fill="#fdc372"/>
<circle cx="132.2" cy="287.0" r="2.5" fill="#fdc372"/>
<circle cx="117.6" cy="299.7" r="2.5" fill="#fdc372"/>
<circle cx="139.1" cy="282.4" r="2.5" fill="#fdc171"/>
<circle cx="99.4" cy="327.5" r="2.5" fill="#fdc171"/>
<circle cx="112.9" cy="312.5" r="2.5" fill="#fdbf6f"/>
<circle cx="137.6" cy="281.7" r="2.5" fill="#fdbf6f"/>
<circle cx="90.3" cy="332.1" r="2.5" fill="#fdbf6f"/>
<circle cx="87.6" cy="338.7" r="2.5" fill="#fdbf6f"/>
<circle cx="124.8" cy="292.2" r="2.5" fill="#fdbd6d"/>
<circle cx="80.0" cy="345.4" r="2.5" fill="#fdbd6d"/>
<circle cx="138.1" cy="278.9" r="2.5" fill="#fdbd6d"/>
<circle cx="144.7" cy="272.4" r="2.5" fill="#fdbd6d"/>
<circle cx="94.0" cy="332.6" r="2.5" fill="#fdbb6c"/>
<circle cx="78.6" cy="348.5" r="2.5" fill="#fdbb6c"/>
<circle cx="128.0" cy="295.4" r="2.5" fill="#fdb96a"/>
<circle cx="126.1" cy="298.1" r="2.5" fill="#fdb96a"/>
<circle cx="134.6" cy="287.7" r="2.5" fill="#fdb96a"/>
<circle cx="137.7" cy="280.2" r="2.5" fill="#fdb96a"/>
<circle cx="81.1" cy="343.0" r="2.5" fill="#fdb96a"/>
<circle cx="124.0" cy="300.1" r="2.5" fill="#fdb768"/>
<circle cx="77.5" cy="348.1" r="2.5" fill="#fdb567"/>
<circle cx="106.2" cy="319.0" r="2.5" fill="#fdb567"/>
<circle cx="84.8" cy="339.4" r="2.5" fill="#fdb567"/>
<circle cx="128.9" cy="294.1" r="2.5" fill="#fdb365"/>
<circle cx="94.8" cy="331.7" r="2.5" fill="#fdb365"/>
<circle cx="97.6" cy="329.3" r="2.5" fill="#fdb365"/>
<circle cx="105.3" cy="314.3" r="2.5" fill="#fdb163"/>
<circle cx="134.8" cy="284.0" r="2.5" fill="#fdb163"/>
<circle cx="86.0" cy="340.5" r="2.5" fill="#fdaf62"/>
<circle cx="94.4" cy="332.6" r="2.5" fill="#fdaf62"/>
<circle cx="83.6" cy="342.0" r="2.5" fill="#fdaf62"/>
<circle cx="79.3" cy="346.2" r="2.5" fill="#fdaf62"/>
<circle cx="131.9" cy="285.6" r="2.5" fill="#fdad60"/>
<circle cx="108.8" cy="317.2" r="2.5" fill="#fdad60"/>
<circle cx="98.3" cy="327.9" r="2.5" fill="#fdad60"/>
<circle cx="95.7" cy="331.8" r="2.5" fill="#fcaa5f"/>
<circle cx="140.3" cy="279.0" r="2.5" fill="#fca85e"/>
<circle cx="102.4" cy="323.6" r="2.5" fill="#fca85e"/>
<circle cx="126.4" cy="291.3" r="2.5" fill="#fca85e"/>
<circle cx="114.1" cy="311.1" r="2.5" fill="#fca55d"/>
<circle cx="135.3" cy="284.7" r="2.5" fill="#fba35c"/>
<circle cx="127.1" cy="290.1" r="2.5" fill="#fba35c"/>
<circle cx="104.4" cy="321.5" r="2.5" fill="#fba05b"/>
<circle cx="113.7" cy="311.5" r="2.5" fill="#fb9d59"/>
<circle cx="83.8" cy="343.4" r="2.5" fill="#fa9b58"/>
<circle cx="116.5" cy="308.4" r="2.5" fill="#fa9857"/>
<circle cx="86.8" cy="337.0" r="2.5" fill="#fa9656"/>
<circle cx="85.7" cy="339.7" r="2.5" fill="#fa9656"/>
<circle cx="97.7" cy="329.0" r="2.5" fill="#fa9656"/>
<circle cx="132.7" cy="284.7" r="2.5" fill="#fa9656"/>
<circle cx="88.6" cy="337.8" r="2.5" fill="#fa9656"/>
<circle cx="134.2" cy="283.2" r="2.5" fill="#f99355"/>
<circle cx="82.3" cy="343.3" r="2.5" fill="#f99355"/>
<circle cx="93.2" cy="328.2" r="2.5" fill="#f99355"/>
<circle cx="96.4" cy="327.4" r="2.5" fill="#f99355"/>
<circle cx="133.9" cy="286.1" r="2.5" fill="#f99355"/>
<circle cx="137.3" cy="282.7" r="2.5" fill="#f99153"/>
<circle cx="114.4" cy="304.2" r="2.5" fill="#f98e52"/>
<circle cx="80.7" cy="345.2" r="2.5" fill="#f98e52"/>
<circle cx="135.1" cy="284.1" r="2.5" fill="#f98e52"/>
<circle cx="115.6" cy="309.3" r="2.5" fill="#f98e52"/>
<circle cx="87.3" cy="339.0" r="2.5" fill="#f88c51"/>
<circle cx="85.1" cy="341.8" r="2.5" fill="#f88c51"/>
<circle cx="119.3" cy="304.9" r="2.5" fill="#f88950"/>
<circle cx="87.0" cy="338.6" r="2.5" fill="#f88950"/>
<circle cx="85.2" cy="340.0" r="2.5" fill="#f88950"/>
<circle cx="134.2" cy="285.7" r="2.5" fill="#f88950"/>
<circle cx="121.3" cy="296.6" r="2.5" fill="#f8864f"/>
<circle cx="131.4" cy="288.1" r="2.5" fill="#f8864f"/>
<circle cx="91.4" cy="334.5" r="2.5" fill="#f8864f"/>
<circle cx="135.7" cy="283.0" r="2.5" fill="#f8864f"/>
<circle cx="106.4" cy="318.8" r="2.5" fill="#f7844e"/>
<circle cx="107.3" cy="312.2" r="2.5" fill="#f7844e"/>
<circle cx="120.1" cy="303.9" r="2.5" fill="#f7844e"/>
<circle cx="92.2" cy="330.6" r="2.5" fill="#f7814c"/>
<circle cx="102.3" cy="322.9" r="2.5" fill="#f67f4b"/>
<circle cx="88.1" cy="338.5" r="2.5" fill="#f67f4b"/>
<circle cx="125.4" cy="297.9" r="2.5" fill="#f67c4a"/>
<circle cx="116.3" cy="302.1" r="2.5" fill="#f67c4a"/>
<circle cx="135.0" cy="284.6" r="2.5" fill="#f67c4a"/>
<circle cx="83.1" cy="342.6" r="2.5" fill="#f67a49"/>
<circle cx="88.5" cy="337.0" r="2.5" fill="#f67a49"/>
<circle cx="133.6" cy="284.4" r="2.5" fill="#f67a49"/>
<circle cx="122.2" cy="301.7" r="2.5" fill="#f57748"/>
<circle cx="133.1" cy="288.4" r="2.5" fill="#f57748"/>
<circle cx="91.2" cy="331.8" r="2.5" fill="#f57547"/>
<circle cx="84.0" cy="342.1" r="2.5" fill="#f57547"/>
<circle cx="128.2" cy="294.0" r="2.5" fill="#f57547"/>
<circle cx="100.2" cy="325.8" r="2.5" fill="#f57547"/>
<circle cx="90.1" cy="333.0" r="2.5" fill="#f57547"/>
<circle cx="86.4" cy="338.8" r="2.5" fill="#f57245"/>
<circle cx="129.8" cy="288.7" r="2.5" fill="#f47044"/>
<circle cx="120.7" cy="303.3" r="2.5" fill="#f46d43"/>
<circle cx="119.8" cy="299.5" r="2.5" fill="#f36b43"/>
<circle cx="118.3" cy="305.7" r="2.5" fill="#f36b43"/>
<circle cx="121.8" cy="301.7" r="2.5" fill="#f36b43"/>
<circle cx="125.4" cy="297.0" r="2.5" fill="#f36b43"/>
<circle cx="122.6" cy="295.7" r="2.5" fill="#f26944"/>
<circle cx="96.7" cy="325.3" r="2.5" fill="#f26944"/>
<circle cx="90.0" cy="335.6" r="2.5" fill="#f26944"/>
<circle cx="123.8" cy="298.5" r="2.5" fill="#f06744"/>
<circle cx="123.9" cy="298.5" r="2.5" fill="#ef6645"/>
<circle cx="136.4" cy="283.0" r="2.5" fill="#ef6645"/>
<circle cx="96.0" cy="325.7" r="2.5" fill="#ee6445"/>
<circle cx="95.2" cy="328.1" r="2.5" fill="#ee6445"/>
<circle cx="119.0" cy="300.2" r="2.5" fill="#ed6246"/>
<circle cx="128.7" cy="293.2" r="2.5" fill="#ed6246"/>
<circle cx="90.7" cy="334.3" r="2.5" fill="#eb6046"/>
<circle cx="98.8" cy="327.2" r="2.5" fill="#ea5e47"/>
<circle cx="93.6" cy="332.4" r="2.5" fill="#ea5e47"/>
<circle cx="92.9" cy="330.7" r="2.5" fill="#e95c47"/>
<circle cx="131.2" cy="288.4" r="2.5" fill="#e95c47"/>
<circle cx="127.3" cy="294.0" r="2.5" fill="#e85b48"/>
<circle cx="126.5" cy="295.9" r="2.5" fill="#e85b48"/>
<circle cx="124.5" cy="298.4" r="2.5" fill="#e85b48"/>
<circle cx="122.9" cy="296.7" r="2.5" fill="#e85b48"/>
<circle cx="130.2" cy="289.4" r="2.5" fill="#e85b48"/>
<circle cx="110.2" cy="313.0" r="2.5" fill="#e75948"/>
<circle cx="120.5" cy="301.5" r="2.5" fill="#e75948"/>
<circle cx="114.3" cy="308.7" r="2.5" fill="#e55749"/>
<circle cx="109.7" cy="310.0" r="2.5" fill="#e45549"/>
<circle cx="97.2" cy="328.6" r="2.5" fill="#e45549"/>
<circle cx="122.3" cy="296.4" r="2.5" fill="#e45549"/>
<circle cx="123.1" cy="299.6" r="2.5" fill="#e45549"/>
<circle cx="96.1" cy="329.0" r="2.5" fill="#e3534a"/>
<circle cx="110.9" cy="309.9" r="2.5" fill="#e2514a"/>
<circle cx="102.7" cy="322.1" r="2.5" fill="#e2514a"/>
<circle cx="108.4" cy="311.4" r="2.5" fill="#e2514a"/>
<circle cx="116.3" cy="302.7" r="2.5" fill="#e2514a"/>
<circle cx="102.9" cy="321.6" r="2.5" fill="#e1504b"/>
<circle cx="123.3" cy="295.6" r="2.5" fill="#e1504b"/>
<circle cx="128.0" cy="294.2" r="2.5" fill="#df4e4b"/>
<circle cx="131.0" cy="291.0" r="2.5" fill="#df4e4b"/>
<circle cx="106.5" cy="313.3" r="2.5" fill="#df4e4b"/>
<circle cx="125.0" cy="297.6" r="2.5" fill="#df4e4b"/>
<circle cx="110.1" cy="310.3" r="2.5" fill="#df4e4b"/>
<circle cx="94.3" cy="331.2" r="2.5" fill="#df4e4b"/>
<circle cx="101.3" cy="320.1" r="2.5" fill="#de4c4b"/>
<circle cx="99.1" cy="322.5" r="2.5" fill="#de4c4b"/>
<circle cx="126.8" cy="293.7" r="2.5" fill="#de4c4b"/>
<circle cx="121.4" cy="296.3" r="2.5" fill="#de4c4b"/>
<circle cx="100.1" cy="321.1" r="2.5" fill="#de4c4b"/>
<circle cx="117.7" cy="303.6" r="2.5" fill="#dc484c"/>
<circle cx="99.7" cy="322.1" r="2.5" fill="#dc484c"/>
<circle cx="119.7" cy="299.8" r="2.5" fill="#dc484c"/>
<circle cx="110.5" cy="311.7" r="2.5" fill="#dc484c"/>
<circle cx="108.4" cy="311.7" r="2.5" fill="#dc484c"/>
<circle cx="98.0" cy="326.5" r="2.5" fill="#dc484c"/>
<circle cx="109.8" cy="314.5" r="2.5" fill="#da464d"/>
<circle cx="125.7" cy="294.6" r="2.5" fill="#da464d"/>
<circle cx="95.6" cy="326.7" r="2.5" fill="#da464d"/>
<circle cx="96.7" cy="325.9" r="2.5" fill="#d9444d"/>
<circle cx="106.8" cy="317.2" r="2.5" fill="#d9444d"/>
<circle cx="121.1" cy="302.4" r="2.5" fill="#d9444d"/>
<circle cx="113.5" cy="309.6" r="2.5" fill="#d9444d"/>
<circle cx="110.4" cy="313.3" r="2.5" fill="#d8434e"/>
<circle cx="101.7" cy="322.5" r="2.5" fill="#d8434e"/>
<circle cx="122.5" cy="296.0" r="2.5" fill="#d8434e"/>
<circle cx="107.7" cy="313.7" r="2.5" fill="#d8434e"/>
<circle cx="112.9" cy="307.3" r="2.5" fill="#d7414e"/>
<circle cx="118.3" cy="301.7" r="2.5" fill="#d7414e"/>
<circle cx="101.0" cy="320.7" r="2.5" fill="#d7414e"/>
<circle cx="101.4" cy="322.1" r="2.5" fill="#d63f4f"/>
<circle cx="125.1" cy="293.5" r="2.5" fill="#d63f4f"/>
<circle cx="97.1" cy="328.3" r="2.5" fill="#d63f4f"/>
<circle cx="92.6" cy="332.6" r="2.5" fill="#d23a4e"/>
<circle cx="108.9" cy="310.9" r="2.5" fill="#d0384e"/>
<circle cx="107.3" cy="313.7" r="2.5" fill="#d0384e"/>
<circle cx="115.8" cy="307.2" r="2.5" fill="#d0384e"/>
<circle cx="110.7" cy="309.5" r="2.5" fill="#d0384e"/>
<circle cx="95.4" cy="327.3" r="2.5" fill="#cd364d"/>
<circle cx="101.9" cy="323.2" r="2.5" fill="#cd364d"/>
<circle cx="102.1" cy="322.9" r="2.5" fill="#cd364d"/>
<circle cx="98.2" cy="324.6" r="2.5" fill="#cd364d"/>
<circle cx="116.1" cy="307.4" r="2.5" fill="#cb334d"/>
<circle cx="103.5" cy="318.1" r="2.5" fill="#cb334d"/>
<circle cx="130.1" cy="290.7" r="2.5" fill="#cb334d"/>
<circle cx="124.3" cy="296.3" r="2.5" fill="#c9314c"/>
<circle cx="114.6" cy="308.7" r="2.5" fill="#c9314c"/>
<circle cx="106.7" cy="314.4" r="2.5" fill="#c72e4c"/>
<circle cx="111.8" cy="310.5" r="2.5" fill="#c72e4c"/>
<circle cx="112.6" cy="310.3" r="2.5" fill="#c72e4c"/>
<circle cx="100.6" cy="321.8" r="2.5" fill="#c52c4b"/>
<circle cx="100.9" cy="324.2" r="2.5" fill="#c52c4b"/>
<circle cx="111.3" cy="309.0" r="2.5" fill="#c52c4b"/>
<circle cx="107.1" cy="314.0" r="2.5" fill="#c32a4b"/>
<circle cx="129.7" cy="290.6" r="2.5" fill="#c32a4b"/>
<circle cx="119.5" cy="304.2" r="2.5" fill="#c32a4b"/>
<circle cx="103.2" cy="321.0" r="2.5" fill="#c32a4b"/>
<circle cx="127.8" cy="292.4" r="2.5" fill="#c32a4b"/>
<circle cx="114.9" cy="304.6" r="2.5" fill="#be254a"/>
<circle cx="113.3" cy="309.8" r="2.5" fill="#bc2249"/>
<circle cx="104.9" cy="319.5" r="2.5" fill="#bc2249"/>
<circle cx="91.9" cy="332.4" r="2.5" fill="#bc2249"/>
<circle cx="105.0" cy="316.6" r="2.5" fill="#bc2249"/>
<circle cx="127.0" cy="293.2" r="2.5" fill="#ba2049"/>
<circle cx="106.0" cy="315.1" r="2.5" fill="#ba2049"/>
<circle cx="127.5" cy="292.6" r="2.5" fill="#ba2049"/>
<circle cx="103.8" cy="318.6" r="2.5" fill="#ba2049"/>
<circle cx="115.4" cy="307.5" r="2.5" fill="#b81e48"/>
<circle cx="112.3" cy="307.9" r="2.5" fill="#b81e48"/>
<circle cx="120.3" cy="301.7" r="2.5" fill="#b81e48"/>
<circle cx="114.4" cy="307.2" r="2.5" fill="#b81e48"/>
<circle cx="115.3" cy="307.5" r="2.5" fill="#b61b48"/>
<circle cx="102.5" cy="321.0" r="2.5" fill="#b61b48"/>
<circle cx="107.8" cy="313.5" r="2.5" fill="#b61b48"/>
<circle cx="100.4" cy="323.3" r="2.5" fill="#b61b48"/>
<circle cx="114.8" cy="307.2" r="2.5" fill="#b41947"/>
<circle cx="111.0" cy="309.3" r="2.5" fill="#b11747"/>
<circle cx="105.3" cy="318.9" r="2.5" fill="#b11747"/>
<circle cx="105.5" cy="319.5" r="2.5" fill="#b11747"/>
<circle cx="118.1" cy="304.4" r="2.5" fill="#b11747"/>
<circle cx="97.0" cy="326.0" r="2.5" fill="#ad1246"/>
<circle cx="100.6" cy="322.6" r="2.5" fill="#ad1246"/>
<circle cx="103.7" cy="320.4" r="2.5" fill="#ab0f45"/>
<circle cx="123.5" cy="297.0" r="2.5" fill="#a90d45"/>
<circle cx="105.7" cy="316.8" r="2.5" fill="#a70b44"/>
<circle cx="104.1" cy="317.5" r="2.5" fill="#a70b44"/>
<circle cx="107.5" cy="314.2" r="2.5" fill="#a70b44"/>
<circle cx="113.8" cy="308.5" r="2.5" fill="#a70b44"/>
<circle cx="104.3" cy="317.8" r="2.5" fill="#a40844"/>
<circle cx="117.3" cy="303.2" r="2.5" fill="#a40844"/>
<circle cx="121.9" cy="297.4" r="2.5" fill="#a20643"/>
<circle cx="108.1" cy="312.3" r="2.5" fill="#a20643"/>
<circle cx="103.3" cy="318.6" r="2.5" fill="#a20643"/>
<circle cx="104.0" cy="319.4" r="2.5" fill="#a20643"/>
<circle cx="99.7" cy="323.2" r="2.5" fill="#a20643"/>
<circle cx="112.4" cy="308.0" r="2.5" fill="#a00343"/>
<circle cx="124.6" cy="296.8" r="2.5" fill="#a00343"/>
<circle cx="116.9" cy="303.5" r="2.5" fill="#9e0142"/>
<circle cx="119.9" cy="301.5" r="2.5" fill="#9e0142"/>
<circle cx="110.7" cy="311.1" r="2.5" fill="#9e0142"/>
<circle cx="104.7" cy="318.6" r="2.5" fill="#9e0142"/>
<circle cx="111.2" cy="311.8" r="2.5" fill="#9e0142"/>
<circle cx="117.2" cy="303.1" r="2.5" fill="#9e0142"/>
<circle cx="105.8" cy="316.7" r="2.5" fill="#9e0142"/>
<circle cx="119.2" cy="302.4" r="2.5" fill="#9e0142"/>
<circle cx="109.0" cy="312.1" r="2.5" fill="#9e0142"/>
<circle cx="118.8" cy="302.5" r="2.5" fill="#9e0142"/>
<circle cx="120.8" cy="298.6" r="2.5" fill="#9e0142"/>
<circle cx="103.0" cy="319.6" r="2.5" fill="#9e0142"/>
<circle cx="98.7" cy="324.6" r="2.5" fill="#9e0142"/>
<circle cx="108.0" cy="313.8" r="2.5" fill="#9e0142"/>
<circle cx="97.8" cy="325.6" r="2.5" fill="#9e0142"/>
<circle cx="98.5" cy="325.8" r="2.5" fill="#9e0142"/>
<circle cx="112.0" cy="310.5" r="2.5" fill="#9e0142"/>
<circle cx="116.7" cy="304.8" r="2.5" fill="#9e0142"/>
<circle cx="115.8" cy="305.9" r="2.5" fill="#9e0142"/>
<circle cx="123.0" cy="298.5" r="2.5" fill="#9e0142"/>
<circle cx="111.5" cy="309.6" r="2.5" fill="#9e0142"/>
<circle cx="111.7" cy="309.2" r="2.5" fill="#9e0142"/>
<circle cx="118.7" cy="303.5" r="2.5" fill="#9e0142"/>
</g>
<g id="grid" stroke="#b0b0b0" stroke-width="1.02" fill="none">
<line x1="56.08" y1="24.0" x2="56.08" y2="383.5"/><line x1="50.5" y1="377.61" x2="391.1" y2="377.61"/><line x1="111.93" y1="24.0" x2="111.93" y2="383.5"/><line x1="50.5" y1="318.67" x2="391.1" y2="318.67"/><line x1="167.77" y1="24.0" x2="167.77" y2="383.5"/><line x1="50.5" y1="259.74" x2="391.1" y2="259.74"/><line x1="223.62" y1="24.0" x2="223.62" y2="383.5"/><line x1="50.5" y1="200.80" x2="391.1" y2="200.80"/><line x1="279.46" y1="24.0" x2="279.46" y2="383.5"/><line x1="50.5" y1="141.87" x2="391.1" y2="141.87"/><line x1="335.31" y1="24.0" x2="335.31" y2="383.5"/><line x1="50.5" y1="82.93" x2="391.1" y2="82.93"/><line x1="391.15" y1="24.0" x2="391.15" y2="383.5"/><line x1="50.5" y1="24.00" x2="391.1" y2="24.00"/>
</g>
<line x1="50.50" y1="383.50" x2="391.15" y2="24.00" stroke="#000000" stroke-width="0.9"/>
<line x1="50.50" y1="376.58" x2="391.15" y2="3.42" stroke="#ff0000" stroke-width="1.95"/>
<rect x="248.0" y="265.5" width="138.8" height="109.3" rx="3.2" ry="3.2" fill="#c0c0c0" fill-opacity="0.8" stroke="#808080" stroke-opacity="0.8" stroke-width="1.1"/>
</g>
<g id="stats" filter="url(#gs)">
<text x="251.2" y="276.8" font-size="11.79" text-anchor="start" textLength="12.5" lengthAdjust="spacingAndGlyphs">N:</text><text x="267.3" y="276.8" font-size="11.79" text-anchor="start" textLength="22.0" lengthAdjust="spacingAndGlyphs">556</text><text x="251.2" y="292.5" font-size="11.79" text-anchor="start" textLength="28.0" lengthAdjust="spacingAndGlyphs">Bias:</text><text x="282.8" y="292.5" font-size="11.79" text-anchor="start" textLength="32.9" lengthAdjust="spacingAndGlyphs">1.848</text><text x="319.4" y="292.5" font-size="11.79" text-anchor="start" textLength="29.0" lengthAdjust="spacingAndGlyphs">kg/m</text><text x="349.0" y="287.9" font-size="8.25" text-anchor="start" textLength="5.1" lengthAdjust="spacingAndGlyphs">2</text><text x="251.2" y="306.4" font-size="11.79" text-anchor="start" textLength="37.5" lengthAdjust="spacingAndGlyphs">MAPD:</text><text x="292.3" y="306.4" font-size="11.79" text-anchor="start" textLength="51.2" lengthAdjust="spacingAndGlyphs">13.433%</text><text x="251.2" y="322.5" font-size="11.79" text-anchor="start" textLength="37.9" lengthAdjust="spacingAndGlyphs">RMSD:</text><text x="292.8" y="322.5" font-size="11.79" text-anchor="start" textLength="32.9" lengthAdjust="spacingAndGlyphs">2.235</text><text x="329.3" y="322.5" font-size="11.79" text-anchor="start" textLength="29.0" lengthAdjust="spacingAndGlyphs">kg/m</text><text x="359.0" y="317.9" font-size="8.25" text-anchor="start" textLength="5.1" lengthAdjust="spacingAndGlyphs">2</text><text x="251.7" y="339.6" font-size="11.79" text-anchor="start" textLength="44.3" lengthAdjust="spacingAndGlyphs">cRMSD:</text><text x="299.6" y="339.6" font-size="11.79" text-anchor="start" textLength="32.9" lengthAdjust="spacingAndGlyphs">1.256</text><text x="336.2" y="339.6" font-size="11.79" text-anchor="start" textLength="29.0" lengthAdjust="spacingAndGlyphs">kg/m</text><text x="365.8" y="335.0" font-size="8.25" text-anchor="start" textLength="5.1" lengthAdjust="spacingAndGlyphs">2</text><text x="254.9" y="354.5" font-size="11.79" text-anchor="start" textLength="4.6" lengthAdjust="spacingAndGlyphs" font-style="italic">r</text><text x="265.6" y="354.5" font-size="11.79" text-anchor="start" textLength="3.9" lengthAdjust="spacingAndGlyphs">:</text><text x="271.9" y="354.5" font-size="11.79" text-anchor="start" textLength="32.9" lengthAdjust="spacingAndGlyphs">0.995</text><text x="251.7" y="368.7" font-size="11.79" text-anchor="start" textLength="25.9" lengthAdjust="spacingAndGlyphs">ODR</text><text x="281.0" y="368.7" font-size="11.79" text-anchor="start" textLength="7.4" lengthAdjust="spacingAndGlyphs" font-style="italic">&#945;</text><text x="289.6" y="368.7" font-size="11.79" text-anchor="start" textLength="3.9" lengthAdjust="spacingAndGlyphs">:</text><text x="295.9" y="368.7" font-size="11.79" text-anchor="start" textLength="36.6" lengthAdjust="spacingAndGlyphs">1.122,</text><text x="335.6" y="368.7" font-size="11.79" text-anchor="start" textLength="7.4" lengthAdjust="spacingAndGlyphs" font-style="italic">&#946;</text><text x="343.6" y="368.7" font-size="11.79" text-anchor="start" textLength="3.9" lengthAdjust="spacingAndGlyphs">:</text><text x="350.4" y="368.7" font-size="11.79" text-anchor="start" textLength="32.9" lengthAdjust="spacingAndGlyphs">1.038</text>
</g>
<g id="ticks" stroke="#000000" stroke-width="1.02">
<line x1="56.08" y1="383.5" x2="56.08" y2="388.0"/><line x1="46.0" y1="377.61" x2="50.5" y2="377.61"/><line x1="111.93" y1="383.5" x2="111.93" y2="388.0"/><line x1="46.0" y1="318.67" x2="50.5" y2="318.67"/><line x1="167.77" y1="383.5" x2="167.77" y2="388.0"/><line x1="46.0" y1="259.74" x2="50.5" y2="259.74"/><line x1="223.62" y1="383.5" x2="223.62" y2="388.0"/><line x1="46.0" y1="200.80" x2="50.5" y2="200.80"/><line x1="279.46" y1="383.5" x2="279.46" y2="388.0"/><line x1="46.0" y1="141.87" x2="50.5" y2="141.87"/><line x1="335.31" y1="383.5" x2="335.31" y2="388.0"/><line x1="46.0" y1="82.93" x2="50.5" y2="82.93"/><line x1="391.15" y1="383.5" x2="391.15" y2="388.0"/><line x1="46.0" y1="24.00" x2="50.5" y2="24.00"/>
</g>
<rect x="50.5" y="24.0" width="340.65" height="359.5" fill="none" stroke="#000000" stroke-width="1.02"/>
<g id="ticklabels" filter="url(#gs)">
<text x="56.1" y="402.6" font-size="13.10" text-anchor="middle" textLength="8.0" lengthAdjust="spacingAndGlyphs">0</text><text x="41.3" y="382.3" font-size="13.10" text-anchor="end" textLength="8.0" lengthAdjust="spacingAndGlyphs">0</text><text x="111.9" y="402.6" font-size="13.10" text-anchor="middle" textLength="16.2" lengthAdjust="spacingAndGlyphs">10</text><text x="41.3" y="323.4" font-size="13.10" text-anchor="end" textLength="16.2" lengthAdjust="spacingAndGlyphs">10</text><text x="167.8" y="402.6" font-size="13.10" text-anchor="middle" textLength="16.2" lengthAdjust="spacingAndGlyphs">20</text><text x="41.3" y="264.4" font-size="13.10" text-anchor="end" textLength="16.2" lengthAdjust="spacingAndGlyphs">20</text><text x="223.6" y="402.6" font-size="13.10" text-anchor="middle" textLength="16.2" lengthAdjust="spacingAndGlyphs">30</text><text x="41.3" y="205.5" font-size="13.10" text-anchor="end" textLength="16.2" lengthAdjust="spacingAndGlyphs">30</text><text x="279.5" y="402.6" font-size="13.10" text-anchor="middle" textLength="16.2" lengthAdjust="spacingAndGlyphs">40</text><text x="41.3" y="146.6" font-size="13.10" text-anchor="end" textLength="16.2" lengthAdjust="spacingAndGlyphs">40</text><text x="335.3" y="402.6" font-size="13.10" text-anchor="middle" textLength="16.2" lengthAdjust="spacingAndGlyphs">50</text><text x="41.3" y="87.6" font-size="13.10" text-anchor="end" textLength="16.2" lengthAdjust="spacingAndGlyphs">50</text><text x="391.1" y="402.6" font-size="13.10" text-anchor="middle" textLength="16.2" lengthAdjust="spacingAndGlyphs">60</text><text x="41.3" y="28.7" font-size="13.10" text-anchor="end" textLength="16.2" lengthAdjust="spacingAndGlyphs">60</text>
</g>
<g id="labels" filter="url(#gs)">
<text x="121.4" y="16.8" font-size="15.87" text-anchor="start" textLength="34.7" lengthAdjust="spacingAndGlyphs">ARM</text><text x="161.0" y="16.8" font-size="15.87" text-anchor="start" textLength="54.3" lengthAdjust="spacingAndGlyphs">SGP.C1</text><text x="220.2" y="16.8" font-size="15.87" text-anchor="start" textLength="39.4" lengthAdjust="spacingAndGlyphs">2016</text><text x="264.6" y="16.8" font-size="15.87" text-anchor="start" textLength="13.0" lengthAdjust="spacingAndGlyphs">&#8722;</text><text x="282.4" y="16.8" font-size="15.87" text-anchor="start" textLength="39.4" lengthAdjust="spacingAndGlyphs">2023</text>
<text x="141.3" y="422.4" font-size="13.22" text-anchor="start" textLength="65.0" lengthAdjust="spacingAndGlyphs">Reference</text><text x="210.4" y="422.4" font-size="13.22" text-anchor="start" textLength="37.7" lengthAdjust="spacingAndGlyphs">TCWV</text><text x="252.2" y="422.4" font-size="13.22" text-anchor="start" textLength="37.6" lengthAdjust="spacingAndGlyphs">[kg/m</text><text x="290.4" y="417.2" font-size="9.26" text-anchor="start" textLength="5.7" lengthAdjust="spacingAndGlyphs">2</text><text x="296.1" y="422.4" font-size="13.22" text-anchor="start" textLength="5.0" lengthAdjust="spacingAndGlyphs">]</text>
<g transform="translate(15.80 301.90) rotate(-90)"><text x="-0.7" y="0.0" font-size="13.22" text-anchor="start" textLength="30.2" lengthAdjust="spacingAndGlyphs">OLCI</text><text x="33.5" y="0.0" font-size="13.22" text-anchor="start" textLength="66.8" lengthAdjust="spacingAndGlyphs">&quot;FCI-alike&quot;</text><text x="106.6" y="0.0" font-size="13.22" text-anchor="start" textLength="37.7" lengthAdjust="spacingAndGlyphs">TCWV</text><text x="148.4" y="0.0" font-size="13.22" text-anchor="start" textLength="37.6" lengthAdjust="spacingAndGlyphs">[kg/m</text><text x="186.6" y="-5.2" font-size="9.26" text-anchor="start" textLength="5.7" lengthAdjust="spacingAndGlyphs">2</text><text x="192.4" y="0.0" font-size="13.22" text-anchor="start" textLength="5.0" lengthAdjust="spacingAndGlyphs">]</text></g>
</g>
<rect x="412.5" y="78.0" width="12.2" height="251.5" fill="url(#cb)" stroke="#000000" stroke-width="1.02"/>
<g stroke="#000000" stroke-width="1.02">
<line x1="424.7" y1="300.40" x2="429.2" y2="300.40"/><line x1="424.7" y1="268.92" x2="429.2" y2="268.92"/><line x1="424.7" y1="237.44" x2="429.2" y2="237.44"/><line x1="424.7" y1="205.96" x2="429.2" y2="205.96"/><line x1="424.7" y1="174.48" x2="429.2" y2="174.48"/><line x1="424.7" y1="143.00" x2="429.2" y2="143.00"/><line x1="424.7" y1="111.52" x2="429.2" y2="111.52"/><line x1="424.7" y1="80.04" x2="429.2" y2="80.04"/>
</g>
<g id="cblabels" filter="url(#gs)">
<text x="433.1" y="305.1" font-size="13.10" text-anchor="start" textLength="45.0" lengthAdjust="spacingAndGlyphs">0.0005</text><text x="433.1" y="273.6" font-size="13.10" text-anchor="start" textLength="45.0" lengthAdjust="spacingAndGlyphs">0.0010</text><text x="433.1" y="242.1" font-size="13.10" text-anchor="start" textLength="45.0" lengthAdjust="spacingAndGlyphs">0.0015</text><text x="433.1" y="210.7" font-size="13.10" text-anchor="start" textLength="45.0" lengthAdjust="spacingAndGlyphs">0.0020</text><text x="433.1" y="179.2" font-size="13.10" text-anchor="start" textLength="45.0" lengthAdjust="spacingAndGlyphs">0.0025</text><text x="433.1" y="147.7" font-size="13.10" text-anchor="start" textLength="45.0" lengthAdjust="spacingAndGlyphs">0.0030</text><text x="433.1" y="116.2" font-size="13.10" text-anchor="start" textLength="45.0" lengthAdjust="spacingAndGlyphs">0.0035</text><text x="433.1" y="84.7" font-size="13.10" text-anchor="start" textLength="45.0" lengthAdjust="spacingAndGlyphs">0.0040</text>
<g transform="translate(492.30 276.10) rotate(-90)"><text x="-1.3" y="0.0" font-size="13.22" text-anchor="start" textLength="52.0" lengthAdjust="spacingAndGlyphs">Relative</text><text x="54.9" y="0.0" font-size="13.22" text-anchor="start" textLength="66.6" lengthAdjust="spacingAndGlyphs">Frequency</text><text x="125.6" y="0.0" font-size="13.22" text-anchor="start" textLength="18.3" lengthAdjust="spacingAndGlyphs">[1]</text></g>
</g>
</svg>
</body></html>
